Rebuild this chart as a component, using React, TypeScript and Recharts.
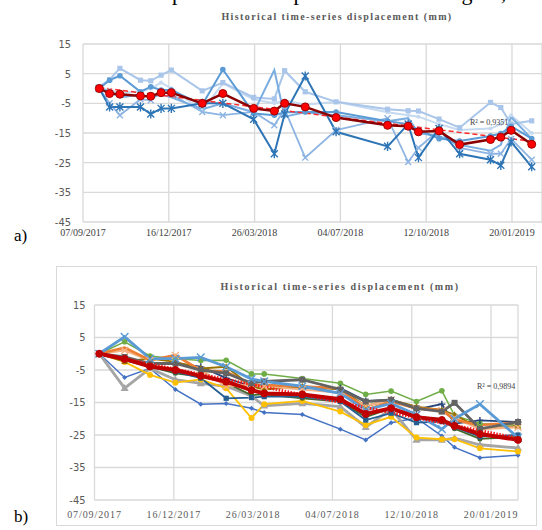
import React from 'react';
import { LineChart, Line, XAxis, YAxis, CartesianGrid } from 'recharts';

// shared axes (days since 07/09/2017)
const tickDays = [0, 100, 200, 300, 400, 500];
const tickLabels = ['07/09/2017', '16/12/2017', '26/03/2018', '04/07/2018', '12/10/2018', '20/01/2019'];
const yTicks = [15, 5, -5, -15, -25, -35, -45];

// ---- chart a) ----
const daysA = [19, 31, 43, 67, 79, 91, 103, 139, 163, 199, 223, 235, 259, 295, 355, 379, 391, 415, 439, 475, 487, 499, 523];
const meanA = [0, -1.7, -1.9, -2.5, -2.6, -1.4, -1.4, -5.0, -1.7, -6.7, -7.6, -5.0, -6.2, -9.8, -12.4, -12.7, -14.6, -14.3, -18.9, -17.2, -16.4, -14.1, -18.8];
const a1 = [0.6, 3, 6.8, 2.8, 2.6, 4.5, 6.2, -0.8, 2, -3, -3.5, 6.0, -1.1, -4.5, -7.0, -7.5, -7.6, -10.3, -13.2, -4.7, -6.4, -12, -10.9];
const a2 = [0, -0.5, -1.5, -1, 0, 2, 0, -7.4, 1.7, -3.7, -5, -4, -5.5, -4.5, -8, -9, -9.5, -12, -14, -13.5, -12, -9, -15];
const a3 = [0, 2.8, 4.3, -1.1, 0.6, -0.5, -0.5, -5.5, 6.4, -8.4, -9, -8, -7.9, -7.9, -11, -12, -14, -16.9, -17.7, -16, -15.2, -12.7, -16.9];
const a4 = [0, -1, -3, -2, -3, -2, -3, -7, -5, -8, 6.2, -9.5, -8, -9, -11, -10, -15, -16, -19, -21, -19, -9.6, -17];
const a5 = [0, -6.2, -6.2, -6.2, -8.6, -6.7, -6.7, -5, -5, -10.4, -22, -8.6, 4.2, -14.6, -19.5, -12, -23.3, -13.5, -22, -24, -25.9, -18, -26.4];
const a6 = [0, -5, -9, -3.6, -4, -1.1, -2, -7.9, -9, -7.9, -12.4, -7, -23.3, -14, -10, -24.8, -20, -14, -20, -22, -22, -17, -24];
const trendA = [{ d: 19, v: 0.3 }, { d: 523, v: -17.8 }];

// ---- chart b) ----
const daysB = [6, 38, 70, 102, 134, 166, 198, 214, 262, 310, 342, 374, 406, 438, 454, 486, 534];
const meanB = [0, -1.6, -3.9, -5, -6.8, -8.6, -11.2, -12.2, -12.5, -14, -18.5, -16.8, -19.5, -20.4, -22.2, -24.7, -26.5];
const bBlue = [0, -7.3, -4.5, -11, -15.5, -15.3, -16.8, -18.1, -18.7, -23.2, -26.5, -21.2, -19.8, -25.3, -28.8, -32, -31.2];
const bGrey = [0, -10.6, -4.5, -8, -9.1, -10, -13, -16, -15.3, -16.3, -22.6, -17, -26.5, -26.5, -26, -28, -29];
const bYellow = [0, -2.5, -6.5, -8.9, -7.9, -10.6, -19.8, -15.5, -14.5, -17.8, -21.9, -19.4, -25.8, -26.3, -26.3, -29.1, -30.1];
const bGreen = [0, 3.7, -0.7, -1.5, -2.1, -2, -6.2, -6.2, -7.6, -9.1, -12.5, -11.5, -14.7, -11.4, -19, -21.5, -22];
const bDarkGrey = [0, -1, -3, -3, -5, -6, -9, -8.5, -8, -11, -14.7, -14.2, -16.8, -17.8, -15.1, -23.1, -21];
const bLightBlue = [0, 5.2, -1.5, -1.5, -1.1, -4, -7.8, -8.5, -10, -12.2, -17.3, -15.3, -18.8, -23.2, -20, -15.5, -25.8];
const bOrange = [0, 1.9, -2, -0.4, -5.2, -5.5, -9.6, -9.6, -10.1, -10.6, -17.3, -14.7, -16.8, -17.3, -20.4, -21.9, -21.2];
const bLightOrange = [0, 1, -2, -0.5, -5, -10, -9.5, -10, -11, -12, -16, -14.2, -17, -17.5, -19.7, -23.2, -22.6];
const bNavy = [0, -2, -3, -3, -4, -7.5, -10, -9.5, -10.5, -10.6, -14.5, -14.2, -17.1, -15.5, -21.5, -20.5, -21];
const bMidBlue = [0, -2, -4, -5.5, -7.5, -13.7, -13.5, -13.2, -13.2, -14.7, -20.4, -18.3, -21.2, -20.9, -22.6, -25.5, -25];
const bOlive = [0, -2.4, -1.5, -2.5, -4.5, -4, -10, -11, -10, -11, -16.1, -14.2, -16.3, -17.3, -18.8, -23, -22.3];
const bDarkGreen = [0, -2, -4, -6, -7, -9, -12.7, -12.5, -13.7, -14.7, -19.5, -16.8, -19.4, -20.1, -23.1, -26.2, -25.6];
const trendB = [{ d: 6, v: 0 }, { d: 534, v: -26 }];

type Shape = 'circle' | 'square' | 'triangle' | 'diamond' | 'x' | 'star' | 'plus' | 'none';
type Series = { key: string; values: number[]; color: string; shape: Shape; width: number; r: number };

const seriesA: Series[] = [
  { key: 'a2', values: a2, color: '#c5d9f1', shape: 'circle', width: 2, r: 2 },
  { key: 'a1', values: a1, color: '#a9c6ea', shape: 'square', width: 2, r: 2.6 },
  { key: 'a6', values: a6, color: '#8db4e2', shape: 'x', width: 1.8, r: 3 },
  { key: 'a4', values: a4, color: '#7aaee0', shape: 'none', width: 2, r: 0 },
  { key: 'a3', values: a3, color: '#5b9bd5', shape: 'circle', width: 2, r: 2.8 },
  { key: 'a5', values: a5, color: '#2e75b6', shape: 'star', width: 2, r: 3.5 },
];

const seriesB: Series[] = [
  { key: 'blue', values: bBlue, color: '#4472c4', shape: 'diamond', width: 1.5, r: 2.5 },
  { key: 'grey', values: bGrey, color: '#a5a5a5', shape: 'triangle', width: 2.8, r: 3.5 },
  { key: 'yellow', values: bYellow, color: '#ffc000', shape: 'circle', width: 1.8, r: 3 },
  { key: 'green', values: bGreen, color: '#70ad47', shape: 'circle', width: 1.5, r: 2.8 },
  { key: 'dgreen', values: bDarkGreen, color: '#43682b', shape: 'circle', width: 1.8, r: 2.5 },
  { key: 'mblue', values: bMidBlue, color: '#255e91', shape: 'square', width: 1.8, r: 2.6 },
  { key: 'navy', values: bNavy, color: '#264478', shape: 'plus', width: 1.8, r: 3.5 },
  { key: 'olive', values: bOlive, color: '#997300', shape: 'triangle', width: 2, r: 3 },
  { key: 'lorange', values: bLightOrange, color: '#f4b183', shape: 'x', width: 2.2, r: 3.5 },
  { key: 'orange', values: bOrange, color: '#ed7d31', shape: 'none', width: 2.6, r: 0 },
  { key: 'dgrey', values: bDarkGrey, color: '#636363', shape: 'square', width: 2.8, r: 3 },
  { key: 'lblue', values: bLightBlue, color: '#5b9bd5', shape: 'x', width: 2.8, r: 3.8 },
];

const rowsA = daysA.map((d, i) => {
  const row: Record<string, number> = { d, mean: meanA[i] };
  seriesA.forEach((s) => (row[s.key] = s.values[i]));
  return row;
});

const rowsB = daysB.map((d, i) => {
  const row: Record<string, number> = { d, mean: meanB[i] };
  seriesB.forEach((s) => (row[s.key] = s.values[i]));
  return row;
});

function Marker({ cx, cy, shape, color, r }: { cx?: number; cy?: number; shape: Shape; color: string; r: number }) {
  if (cx == null || cy == null || isNaN(cx) || isNaN(cy) || shape === 'none') return null;
  switch (shape) {
    case 'square':
      return <rect x={cx - r} y={cy - r} width={2 * r} height={2 * r} fill={color} />;
    case 'triangle':
      return <polygon points={`${cx},${cy - r * 1.2} ${cx + r * 1.15},${cy + r * 0.8} ${cx - r * 1.15},${cy + r * 0.8}`} fill={color} />;
    case 'diamond':
      return <polygon points={`${cx},${cy - r} ${cx + r},${cy} ${cx},${cy + r} ${cx - r},${cy}`} fill={color} />;
    case 'x':
      return <path d={`M${cx - r},${cy - r}L${cx + r},${cy + r}M${cx - r},${cy + r}L${cx + r},${cy - r}`} stroke={color} strokeWidth={1.4} />;
    case 'plus':
      return <path d={`M${cx - r},${cy}L${cx + r},${cy}M${cx},${cy - r}L${cx},${cy + r}`} stroke={color} strokeWidth={1.4} />;
    case 'star':
      return (
        <path
          d={`M${cx - r},${cy - r}L${cx + r},${cy + r}M${cx - r},${cy + r}L${cx + r},${cy - r}M${cx},${cy - r * 1.3}L${cx},${cy + r * 1.3}`}
          stroke={color}
          strokeWidth={1.4}
        />
      );
    default:
      return <circle cx={cx} cy={cy} r={r} fill={color} />;
  }
}

const dotFor = (s: Series) => (p: any) => <Marker key={`${s.key}-${p.index}`} cx={p.cx} cy={p.cy} shape={s.shape} color={s.color} r={s.r} />;

const fmtDate = (v: number) => tickLabels[tickDays.indexOf(v)] ?? '';

const titleStyle: React.CSSProperties = {
  position: 'absolute',
  width: 320,
  textAlign: 'center',
  fontFamily: "'Liberation Serif', serif",
  fontWeight: 'bold',
  fontSize: 10,
  color: '#595959',
  whiteSpace: 'nowrap',
};

const yTick = { fill: '#595959', fontSize: 11, fontFamily: "'Liberation Sans Narrow', 'DejaVu Sans Condensed', sans-serif" };

export default function App() {
  return (
    <div style={{ position: 'fixed', left: 0, top: 0, width: 542, height: 530, overflow: 'hidden', background: '#fff' }}>
      {/* clipped body text line above the figure */}
      <div style={{ position: 'absolute', left: 0, top: 0, width: 542, height: 6, overflow: 'hidden', fontFamily: "'Liberation Serif', serif", fontSize: 22, lineHeight: '22px', color: '#000' }}>
        <span style={{ position: 'absolute', right: 542 - 167, top: -18.5, whiteSpace: 'nowrap' }}>and the mean time-series</span>
        <span style={{ position: 'absolute', left: 172, top: -18.5, whiteSpace: 'nowrap' }}>plot of the displacement in the region,</span>
      </div>

      {/* chart a */}
      <div style={{ ...titleStyle, left: 337 - 160, top: 11, letterSpacing: 1.4 }}>Historical time-series displacement (mm)</div>
      <div style={{ position: 'absolute', left: 0, top: 0 }}>
        <LineChart width={542} height={245} data={rowsA} margin={{ top: 44, right: 0, left: 0, bottom: 3 }}>
          <CartesianGrid stroke="#d9d9d9" strokeWidth={1.3} />
          <XAxis
            dataKey="d"
            type="number"
            domain={[0, 535]}
            ticks={tickDays}
            tickFormatter={fmtDate}
            axisLine={false}
            tickLine={false}
            tickMargin={1}
            height={20}
            interval={0}
            tick={{ fill: '#404040', fontSize: 10, fontFamily: "'Liberation Serif', serif" }}
          />
          <YAxis
            type="number"
            domain={[-45, 15]}
            ticks={yTicks}
            axisLine={false}
            tickLine={false}
            tickMargin={6}
            width={83}
            interval={0}
            tick={yTick}
          />
          {seriesA.map((s) => (
            <Line key={s.key} dataKey={s.key} stroke={s.color} strokeWidth={s.width} dot={dotFor(s)} isAnimationActive={false} />
          ))}
          <Line data={trendA} dataKey="v" stroke="#ff2a2a" strokeWidth={1.5} strokeDasharray="5 3" dot={false} isAnimationActive={false} />
          <Line
            dataKey="mean"
            stroke="#8b0000"
            strokeWidth={2.5}
            dot={{ r: 4, fill: '#ff0000', stroke: '#a00000', strokeWidth: 1 }}
            isAnimationActive={false}
          />
        </LineChart>
      </div>
      <div style={{ position: 'absolute', left: 470, top: 118, fontFamily: "'Liberation Serif', serif", fontSize: 8, color: '#404040', whiteSpace: 'nowrap' }}>
        R² = 0,9351
      </div>
      <div style={{ position: 'absolute', left: 14, top: 226, fontFamily: "'Liberation Serif', serif", fontSize: 17, color: '#000' }}>a)</div>

      {/* chart b */}
      <div style={{ position: 'absolute', left: 56, top: 266, width: 479, height: 258, border: '1px solid #d9d9d9' }} />
      <div style={{ ...titleStyle, left: 340 - 160, top: 281, letterSpacing: 1.6 }}>Historical time-series displacement (mm)</div>
      <div style={{ position: 'absolute', left: 0, top: 260 }}>
        <LineChart width={542} height={270} data={rowsB} margin={{ top: 45, right: 24, left: 0, bottom: 10 }}>
          <CartesianGrid stroke="#d9d9d9" strokeWidth={1.3} />
          <XAxis
            dataKey="d"
            type="number"
            domain={[0, 534]}
            ticks={tickDays}
            tickFormatter={fmtDate}
            axisLine={false}
            tickLine={false}
            tickMargin={5}
            height={20}
            interval={0}
            tick={{ fill: '#595959', fontSize: 10, fontFamily: "'Liberation Serif', serif", letterSpacing: 0.9 }}
          />
          <YAxis
            type="number"
            domain={[-45, 15]}
            ticks={yTicks}
            axisLine={false}
            tickLine={false}
            tickMargin={3}
            width={94.5}
            interval={0}
            tick={yTick}
          />
          {seriesB.map((s) => (
            <Line key={s.key} dataKey={s.key} stroke={s.color} strokeWidth={s.width} dot={dotFor(s)} isAnimationActive={false} />
          ))}
          <Line data={trendB} dataKey="v" stroke="#ff1a1a" strokeWidth={3} strokeDasharray="1.5 1.5" dot={false} isAnimationActive={false} />
          <Line dataKey="mean" stroke="#c00000" strokeWidth={4} dot={{ r: 3.5, fill: '#c00000', stroke: '#c00000', strokeWidth: 1 }} isAnimationActive={false} />
        </LineChart>
      </div>
      <div style={{ position: 'absolute', left: 477, top: 382, fontFamily: "'Liberation Serif', serif", fontSize: 8, color: '#404040', whiteSpace: 'nowrap' }}>
        R² = 0,9894
      </div>
      <div style={{ position: 'absolute', left: 14, top: 507, fontFamily: "'Liberation Serif', serif", fontSize: 17, color: '#000' }}>b)</div>
    </div>
  );
}
